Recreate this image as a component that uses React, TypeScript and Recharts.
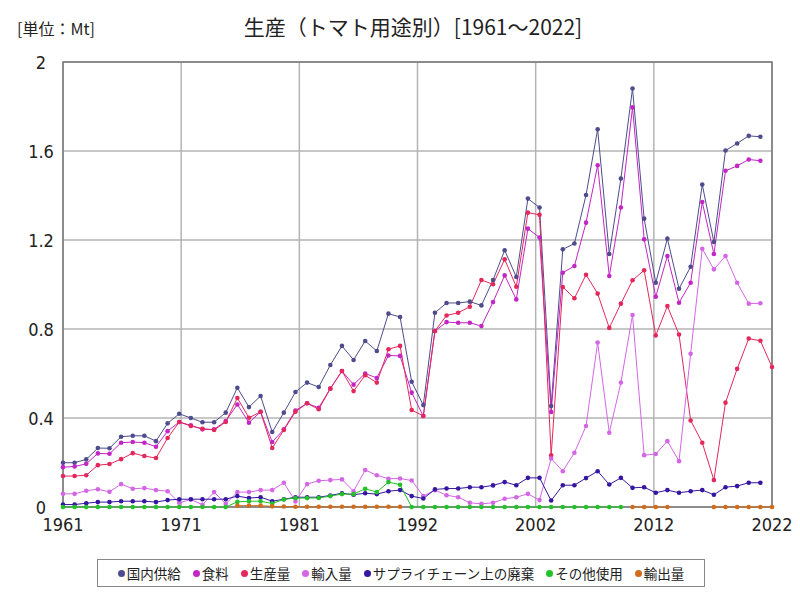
import { CartesianGrid, Legend, Line, LineChart, ReferenceArea, XAxis, YAxis } from "recharts";

const years = Array.from({ length: 62 }, (_, i) => 1961 + i);

// 国内供給
const supply = [
  0.199, 0.199, 0.214, 0.265, 0.264, 0.316, 0.32, 0.32, 0.296, 0.376,
  0.419, 0.4, 0.381, 0.381, 0.424, 0.536, 0.449, 0.499, 0.337, 0.424,
  0.517, 0.559, 0.539, 0.638, 0.724, 0.661, 0.746, 0.701, 0.869, 0.854,
  0.563, 0.458, 0.873, 0.917, 0.917, 0.923, 0.906, 1.02, 1.154, 1.034,
  1.386, 1.346, 0.454, 1.158, 1.184, 1.402, 1.698, 1.137, 1.476, 1.881,
  1.296, 1.008, 1.206, 0.981, 1.08, 1.449, 1.191, 1.602, 1.634, 1.668,
  1.664, null,
];
// 食料
const food = [
  0.179, 0.182, 0.194, 0.241, 0.239, 0.289, 0.292, 0.289, 0.271, 0.341,
  0.382, 0.367, 0.349, 0.349, 0.386, 0.461, 0.379, 0.428, 0.292, 0.349,
  0.434, 0.466, 0.446, 0.532, 0.611, 0.55, 0.6, 0.58, 0.681, 0.679,
  0.514, 0.409, 0.791, 0.831, 0.828, 0.828, 0.813, 0.921, 1.041, 0.933,
  1.251, 1.211, 0.427, 1.053, 1.083, 1.278, 1.536, 1.038, 1.346, 1.796,
  1.203, 0.945, 1.128, 0.918, 1.008, 1.371, 1.137, 1.511, 1.533, 1.562,
  1.556, null,
];
// 生産量
const production = [
  0.139, 0.139, 0.143, 0.188, 0.193, 0.215, 0.242, 0.229, 0.22, 0.31,
  0.382, 0.364, 0.352, 0.346, 0.382, 0.49, 0.401, 0.428, 0.265, 0.346,
  0.428, 0.466, 0.439, 0.532, 0.611, 0.521, 0.592, 0.559, 0.709, 0.724,
  0.436, 0.409, 0.791, 0.861, 0.873, 0.9, 1.02, 1.001, 1.113, 0.99,
  1.323, 1.313, 0.232, 0.989, 0.938, 1.044, 0.959, 0.805, 0.914, 1.019,
  1.064, 0.771, 0.903, 0.775, 0.389, 0.289, 0.121, 0.469, 0.621, 0.757,
  0.747, 0.629,
];
// 輸入量
const imports = [
  0.059, 0.059, 0.073, 0.08, 0.068, 0.103, 0.082, 0.085, 0.076, 0.071,
  0.019, 0.034, 0.01, 0.067, 0.014, 0.067, 0.067, 0.076, 0.076, 0.109,
  0.025, 0.103, 0.118, 0.121, 0.124, 0.071, 0.166, 0.143, 0.127, 0.128,
  0.119, 0.049, 0.076, 0.053, 0.044, 0.019, 0.014, 0.019, 0.037, 0.044,
  0.059, 0.031, 0.218, 0.161, 0.244, 0.364, 0.739, 0.334, 0.559, 0.863,
  0.233, 0.238, 0.296, 0.206, 0.689, 1.161, 1.068, 1.128, 1.008, 0.914,
  0.916, null,
];
// サプライチェーン上の廃棄
const waste = [
  0.011, 0.011, 0.017, 0.022, 0.022, 0.026, 0.026, 0.026, 0.022, 0.031,
  0.035, 0.035, 0.035, 0.035, 0.035, 0.049, 0.04, 0.044, 0.026, 0.035,
  0.044, 0.044, 0.044, 0.052, 0.062, 0.055, 0.062, 0.058, 0.071, 0.076,
  0.049, 0.038, 0.079, 0.083, 0.083, 0.089, 0.089, 0.097, 0.112, 0.098,
  0.131, 0.131, 0.029, 0.098, 0.098, 0.13, 0.161, 0.101, 0.131, 0.086,
  0.089, 0.064, 0.076, 0.064, 0.071, 0.076, 0.055, 0.089, 0.094, 0.109,
  0.109, null,
];
// その他使用
const otherUse = [
  0, 0, 0, 0, 0, 0, 0, 0, 0, 0,
  0, 0, 0, 0, 0, 0.023, 0.026, 0.026, 0.016, 0.034,
  0.04, 0.04, 0.041, 0.049, 0.058, 0.058, 0.082, 0.067, 0.112, 0.1,
  0, 0, 0, 0, 0, 0, 0, 0, 0, 0,
  0, 0, 0, 0, 0, 0, 0, 0, 0, null,
  null, null, null, null, null, null, null, null, null, null,
  null, null,
];
// 輸出量
const exports = [
  null, null, null, null, null, null, null, null, null, null,
  null, null, null, null, null, 0.006, 0.006, 0.006, 0.003, 0.002,
  0.001, 0.001, 0.001, 0.001, 0.001, 0.001, 0.001, 0.001, 0.001, 0.001,
  null, null, null, null, null, null, null, null, null, null,
  null, null, null, null, null, null, null, null, null, 0,
  0, 0, 0, null, null, null, 0, 0, 0, 0,
  0, 0,
];

const series = [
  { key: "supply", name: "国内供給", color: "#4e4c8c", values: supply },
  { key: "food", name: "食料", color: "#c226c4", values: food },
  { key: "production", name: "生産量", color: "#e3285c", values: production },
  { key: "imports", name: "輸入量", color: "#d466e6", values: imports },
  { key: "waste", name: "サプライチェーン上の廃棄", color: "#3616a0", values: waste },
  { key: "otherUse", name: "その他使用", color: "#22c228", values: otherUse },
  { key: "exports", name: "輸出量", color: "#d06c1c", values: exports },
];

const rows = years.map((y, i) => {
  const r: Record<string, number | null> = { year: y };
  series.forEach((s) => {
    r[s.key] = s.values[i];
  });
  return r;
});

const xTicks = Array.from({ length: 7 }, (_, k) => 1961 + (k * 61) / 6);
const yTicks = [0, 0.4, 0.8, 1.2, 1.6, 2];

const FONT = "'Noto Sans CJK JP', sans-serif";
const NUM_FONT = "'Liberation Sans Narrow', 'DejaVu Sans Condensed', sans-serif";

function YTick(props: { y?: number; payload?: { value: number } }) {
  const v = props.payload?.value ?? 0;
  const label = v === 0 || v === 2 ? String(v) : v.toFixed(1);
  return (
    <text
      x={41}
      y={props.y}
      textAnchor="middle"
      dominantBaseline="central"
      fontSize={18}
      fill="#222"
      fontFamily={NUM_FONT}
    >
      {label}
    </text>
  );
}

function LegendBox() {
  return (
    <div
      style={{
        border: "1.5px solid #888",
        height: 26,
        display: "flex",
        alignItems: "center",
        justifyContent: "center",
        gap: 12,
        fontFamily: FONT,
        fontSize: 13.5,
        color: "#222",
        background: "#fff",
      }}
    >
      {series.map((s) => (
        <span key={s.key} style={{ display: "flex", alignItems: "center" }}>
          <span
            style={{
              display: "inline-block",
              width: 7,
              height: 7,
              borderRadius: 4,
              background: s.color,
              marginRight: 2,
            }}
          />
          {s.name}
        </span>
      ))}
    </div>
  );
}

export default function App() {
  return (
    <div style={{ position: "relative", width: 800, height: 600, background: "#fff" }}>
      <style>{"body{margin:0}"}</style>
      <div
        style={{
          position: "absolute",
          left: 17,
          top: 16,
          fontFamily: FONT,
          fontSize: 16,
          lineHeight: "24px",
          color: "#222",
        }}
      >
        [単位：Mt]
      </div>
      <div
        style={{
          position: "absolute",
          left: 0,
          width: 826,
          top: 12,
          textAlign: "center",
          fontFamily: FONT,
          fontSize: 21,
          lineHeight: "28px",
          color: "#222",
        }}
      >
        生産（トマト用途別）[1961～2022]
      </div>
      <LineChart
        width={800}
        height={600}
        data={rows}
        margin={{ top: 62, right: 28, left: 13, bottom: 63 }}
      >
        <CartesianGrid stroke="#b4b4b4" strokeWidth={1.5} />
        <XAxis
          dataKey="year"
          type="number"
          domain={[1961, 2022]}
          ticks={xTicks}
          tickFormatter={(v: number) => String(Math.round(v))}
          interval={0}
          tickLine={false}
          axisLine={false}
          height={30}
          tick={{ fontSize: 18, fill: "#222", fontFamily: NUM_FONT }}
          tickMargin={5}
        />
        <YAxis
          type="number"
          domain={[0, 2]}
          ticks={yTicks}
          interval={0}
          tickLine={false}
          axisLine={false}
          width={50}
          tick={<YTick />}
        />
        <ReferenceArea
          x1={1961}
          x2={2022}
          y1={0}
          y2={2}
          fill="none"
          stroke="#7a7a7a"
          strokeWidth={1.5}
          ifOverflow="visible"
        />
        {series.map((s) => (
          <Line
            key={s.key}
            type="linear"
            dataKey={s.key}
            name={s.name}
            stroke={s.color}
            strokeWidth={1}
            dot={{ r: 2.3, fill: s.color, stroke: "none" }}
            activeDot={false}
            isAnimationActive={false}
          />
        ))}
        <Legend
          layout="horizontal"
          verticalAlign="middle"
          align="center"
          wrapperStyle={{ top: 559, left: 97, width: 608 }}
          content={() => <LegendBox />}
        />
      </LineChart>
    </div>
  );
}
